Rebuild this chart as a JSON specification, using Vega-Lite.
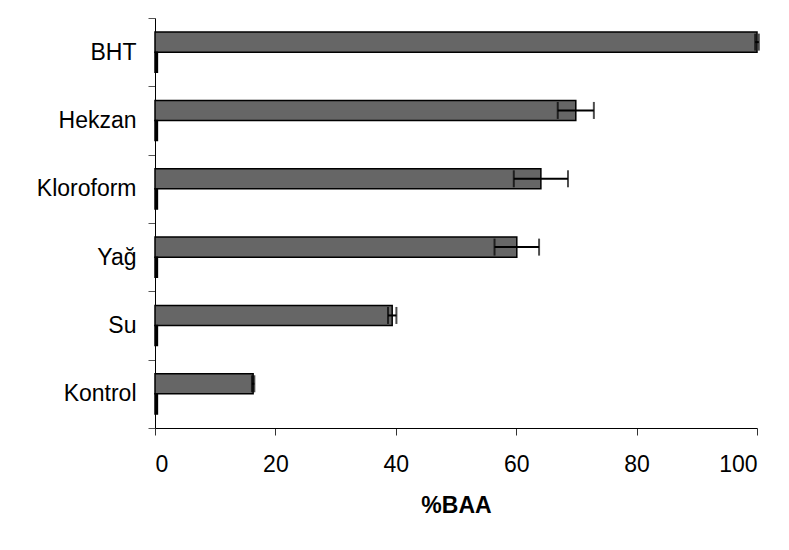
{
  "$schema": "https://vega.github.io/schema/vega-lite/v6.json",
  "width": 602,
  "height": 410,
  "padding": {"left": 36, "top": 7, "right": 10, "bottom": 5},
  "background": "white",
  "config": {
    "view": {"stroke": null},
    "font": "Liberation Sans"
  },
  "data": {
    "values": [
      {"cat": "BHT", "series": "a", "value": 100, "lo": 99.7, "hi": 100.3},
      {"cat": "Hekzan", "series": "a", "value": 69.9, "lo": 66.9, "hi": 72.9},
      {"cat": "Kloroform", "series": "a", "value": 64.1, "lo": 59.6, "hi": 68.6},
      {"cat": "Yağ", "series": "a", "value": 60.1, "lo": 56.4, "hi": 63.8},
      {"cat": "Su", "series": "a", "value": 39.4, "lo": 38.7, "hi": 40.1},
      {"cat": "Kontrol", "series": "a", "value": 16.3, "lo": 16.1, "hi": 16.5},
      {"cat": "BHT", "series": "b", "value": 0.4},
      {"cat": "Hekzan", "series": "b", "value": 0.4},
      {"cat": "Kloroform", "series": "b", "value": 0.4},
      {"cat": "Yağ", "series": "b", "value": 0.4},
      {"cat": "Su", "series": "b", "value": 0.4},
      {"cat": "Kontrol", "series": "b", "value": 0.4}
    ]
  },
  "encoding": {
    "y": {
      "field": "cat",
      "type": "nominal",
      "sort": ["BHT", "Hekzan", "Kloroform", "Yağ", "Su", "Kontrol"],
      "scale": {"paddingInner": 0, "paddingOuter": 0},
      "axis": {
        "title": null,
        "tickBand": "extent",
        "tickSize": 7,
        "tickColor": "#555",
        "domainColor": "black",
        "labelFontSize": 23,
        "labelColor": "black",
        "labelPadding": 12,
        "labelFont": "Liberation Sans"
      }
    },
    "yOffset": {
      "field": "series",
      "type": "nominal",
      "sort": ["a", "b"],
      "scale": {"paddingInner": 0, "paddingOuter": 0.7}
    }
  },
  "layer": [
    {
      "mark": {"type": "bar", "stroke": "black", "strokeWidth": 1.5},
      "encoding": {
        "x": {
          "field": "value",
          "type": "quantitative",
          "scale": {"domain": [0, 100], "nice": false},
          "axis": {
            "title": "%BAA",
            "values": [0, 20, 40, 60, 80, 100],
            "grid": false,
            "tickSize": 7,
            "tickColor": "#333",
            "domainColor": "black",
            "labelFontSize": 23,
            "labelColor": "black",
            "labelPadding": 18,
            "labelFont": "Liberation Sans",
            "titleFontSize": 23,
            "titleFontWeight": "bold",
            "titleColor": "black",
            "titlePadding": 18,
            "titleFont": "Liberation Sans"
          }
        },
        "fill": {
          "field": "series",
          "type": "nominal",
          "scale": {"domain": ["a", "b"], "range": ["#666666", "black"]},
          "legend": null
        }
      }
    },
    {
      "transform": [{"filter": "datum.series === 'a'"}],
      "mark": {"type": "rule", "color": "black", "strokeWidth": 2},
      "encoding": {
        "x": {"field": "lo", "type": "quantitative"},
        "x2": {"field": "hi"}
      }
    },
    {
      "transform": [{"filter": "datum.series === 'a'"}],
      "mark": {"type": "tick", "color": "black", "thickness": 2, "size": 17, "orient": "vertical"},
      "encoding": {
        "x": {"field": "hi", "type": "quantitative"}
      }
    },
    {
      "transform": [{"filter": "datum.series === 'a'"}],
      "mark": {"type": "tick", "color": "black", "thickness": 2, "size": 17, "orient": "vertical"},
      "encoding": {
        "x": {"field": "lo", "type": "quantitative"}
      }
    }
  ]
}
